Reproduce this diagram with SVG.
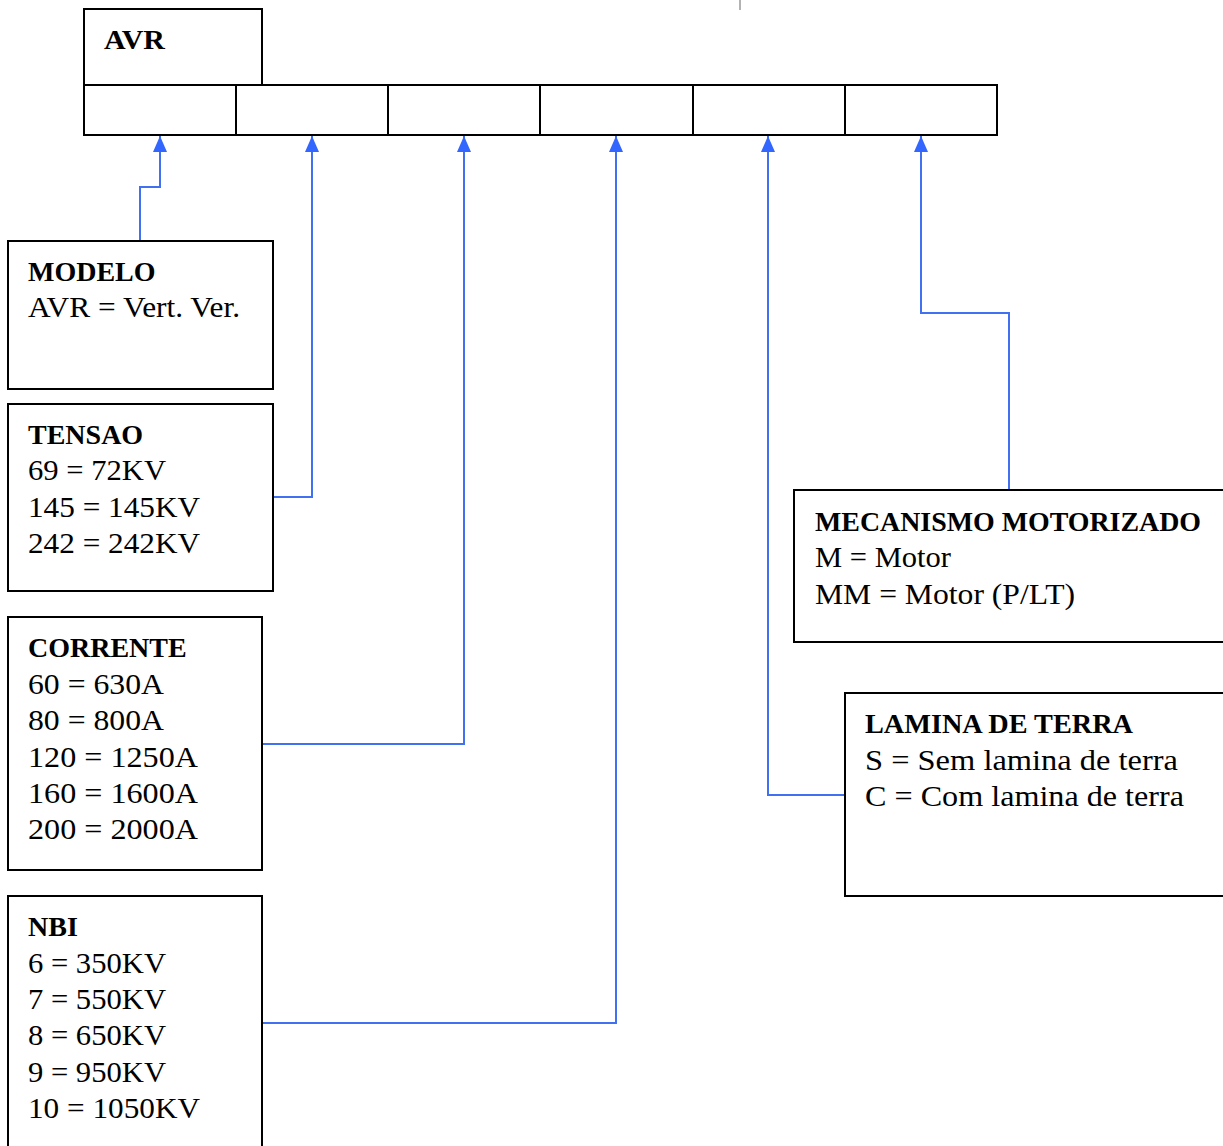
<svg xmlns="http://www.w3.org/2000/svg" width="1223" height="1146" viewBox="0 0 1223 1146">
<defs>
<style>
.box{fill:#fff;stroke:#000;stroke-width:2}
.t{font-family:"Liberation Serif",serif;font-size:29px;fill:#000}
.b{font-weight:bold;font-size:28px}
.c{fill:none;stroke:#4170f0;stroke-width:2}
</style>
<marker id="ah" viewBox="0 0 16 14" refX="16" refY="7" markerWidth="16" markerHeight="14" markerUnits="userSpaceOnUse" orient="auto">
<path d="M0,0 L16,7 L0,14 Z" fill="#3366ff"/>
</marker>
</defs>
<rect width="1223" height="1146" fill="#fff"/>
<line x1="740" y1="0" x2="740" y2="10" stroke="#666" stroke-width="1"/>
<g id="avr">
<rect class="box" x="84" y="9" width="178" height="76"/>
<text class="t b" x="104" y="49" textLength="61" lengthAdjust="spacingAndGlyphs">AVR</text>
</g>
<g id="code-row">
<rect class="box" x="84" y="85" width="152" height="50"/>
<rect class="box" x="236" y="85" width="152" height="50"/>
<rect class="box" x="388" y="85" width="152" height="50"/>
<rect class="box" x="540" y="85" width="153" height="50"/>
<rect class="box" x="693" y="85" width="152" height="50"/>
<rect class="box" x="845" y="85" width="152" height="50"/>
</g>
<g id="connectors">
<polyline class="c" points="140,241 140,187 160,187 160,136" marker-end="url(#ah)"/>
<polyline class="c" points="273,497 312,497 312,136" marker-end="url(#ah)"/>
<polyline class="c" points="262,744 464,744 464,136" marker-end="url(#ah)"/>
<polyline class="c" points="262,1023 616,1023 616,136" marker-end="url(#ah)"/>
<polyline class="c" points="845,795 768,795 768,136" marker-end="url(#ah)"/>
<polyline class="c" points="1009,490 1009,313 921,313 921,136" marker-end="url(#ah)"/>
</g>
<g id="modelo">
<rect class="box" x="8" y="241" width="265" height="148"/>
<text class="t b" x="28" y="281">MODELO</text>
<text class="t" x="28" y="317" textLength="212" lengthAdjust="spacingAndGlyphs">AVR = Vert. Ver.</text>
</g>
<g id="tensao">
<rect class="box" x="8" y="404" width="265" height="187"/>
<text class="t b" x="28" y="444">TENSAO</text>
<text class="t" x="28" y="480" textLength="138" lengthAdjust="spacingAndGlyphs">69 = 72KV</text>
<text class="t" x="28" y="517" textLength="172" lengthAdjust="spacingAndGlyphs">145 = 145KV</text>
<text class="t" x="28" y="553" textLength="172" lengthAdjust="spacingAndGlyphs">242 = 242KV</text>
</g>
<g id="corrente">
<rect class="box" x="8" y="617" width="254" height="253"/>
<text class="t b" x="28" y="657">CORRENTE</text>
<text class="t" x="28" y="694" textLength="136" lengthAdjust="spacingAndGlyphs">60 = 630A</text>
<text class="t" x="28" y="730" textLength="136" lengthAdjust="spacingAndGlyphs">80 = 800A</text>
<text class="t" x="28" y="767" textLength="170" lengthAdjust="spacingAndGlyphs">120 = 1250A</text>
<text class="t" x="28" y="803" textLength="170" lengthAdjust="spacingAndGlyphs">160 = 1600A</text>
<text class="t" x="28" y="839" textLength="170" lengthAdjust="spacingAndGlyphs">200 = 2000A</text>
</g>
<g id="nbi">
<rect class="box" x="8" y="896" width="254" height="260"/>
<text class="t b" x="28" y="936">NBI</text>
<text class="t" x="28" y="973" textLength="138" lengthAdjust="spacingAndGlyphs">6 = 350KV</text>
<text class="t" x="28" y="1009" textLength="138" lengthAdjust="spacingAndGlyphs">7 = 550KV</text>
<text class="t" x="28" y="1045" textLength="138" lengthAdjust="spacingAndGlyphs">8 = 650KV</text>
<text class="t" x="28" y="1082" textLength="138" lengthAdjust="spacingAndGlyphs">9 = 950KV</text>
<text class="t" x="28" y="1118" textLength="172" lengthAdjust="spacingAndGlyphs">10 = 1050KV</text>
</g>
<g id="mecanismo">
<rect class="box" x="794" y="490" width="440" height="152"/>
<text class="t b" x="815" y="531" textLength="386" lengthAdjust="spacingAndGlyphs">MECANISMO MOTORIZADO</text>
<text class="t" x="815" y="567" textLength="136" lengthAdjust="spacingAndGlyphs">M = Motor</text>
<text class="t" x="815" y="604" textLength="260" lengthAdjust="spacingAndGlyphs">MM = Motor (P/LT)</text>
</g>
<g id="lamina">
<rect class="box" x="845" y="693" width="390" height="203"/>
<text class="t b" x="865" y="733" textLength="268" lengthAdjust="spacingAndGlyphs">LAMINA DE TERRA</text>
<text class="t" x="865" y="770" textLength="313" lengthAdjust="spacingAndGlyphs">S = Sem lamina de terra</text>
<text class="t" x="865" y="806" textLength="319" lengthAdjust="spacingAndGlyphs">C = Com lamina de terra</text>
</g>
</svg>
